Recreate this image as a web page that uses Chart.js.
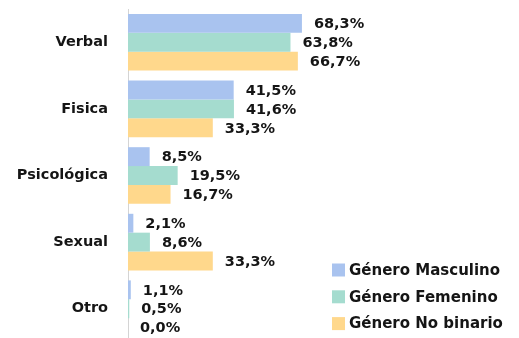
<!DOCTYPE html>
<html>
<head>
<meta charset="utf-8">
<script src="https://cdn.jsdelivr.net/npm/chart.js@4/dist/chart.umd.min.js"></script>
<style>
  html, body { margin: 0; padding: 0; background: #fff; overflow: hidden; }
  #wrap { position: absolute; left: 0; top: 0; width: 519px; height: 351px; }
</style>
</head>
<body>
<div id="wrap"><canvas id="myChart"></canvas></div>
<script>
const categorias = ['Verbal', 'Fisica', 'Psicológica', 'Sexual', 'Otro']
const masculino = [68.3, 41.5, 8.5, 2.1, 1.1]
const femenino = [63.8, 41.6, 19.5, 8.6, 0.5]
const noBinario = [66.7, 33.3, 16.7, 33.3, 0.0]

const fuente = 'bold 14.5px "DejaVu Sans"'
const fuenteLeyenda = 'bold 15px "DejaVu Sans"'
const colorTexto = '#151515'

// etiquetas de valor a la derecha de cada barra
const etiquetas = {
	id: 'etiquetas',
	afterDatasetsDraw(chart) {
		const ctx = chart.ctx
		ctx.save()
		ctx.font = fuente
		ctx.fillStyle = colorTexto
		ctx.textAlign = 'left'
		ctx.textBaseline = 'middle'
		chart.data.datasets.forEach((ds, i) => {
			chart.getDatasetMeta(i).data.forEach((bar, j) => {
				const txt = ds.data[j].toFixed(1).replace('.', ',') + '%'
				ctx.fillText(txt, bar.x + 12, bar.y + 1)
			})
		})
		ctx.restore()
	}
}

// leyenda dentro del área, abajo a la derecha
const leyenda = {
	id: 'leyenda',
	afterDraw(chart) {
		const ctx = chart.ctx
		ctx.save()
		ctx.font = fuenteLeyenda
		ctx.textBaseline = 'middle'
		chart.data.datasets.forEach((ds, i) => {
			const y = 270 + i * 26.8
			ctx.fillStyle = ds.backgroundColor
			ctx.fillRect(332, y - 6.5, 13, 13)
			ctx.fillStyle = colorTexto
			ctx.fillText(ds.label, 349, y + 1)
		})
		ctx.restore()
	}
}

const context = document.getElementById('myChart')
const items = {
	labels: categorias,
	datasets: [
		{ label: 'Género Masculino', data: masculino, backgroundColor: '#a9c3ef' },
		{ label: 'Género Femenino', data: femenino, backgroundColor: '#a5dccf' },
		{ label: 'Género No binario', data: noBinario, backgroundColor: '#ffd88c' }
	]
}
const config = {
	type: 'bar',
	data: items,
	options: {
		indexAxis: 'y',
		responsive: true,
		maintainAspectRatio: false,
		animation: false,
		categoryPercentage: 0.85,
		barPercentage: 1,
		layout: { padding: { top: 9, bottom: 9, left: 0, right: 9 } },
		plugins: {
			legend: { display: false },
			tooltip: { enabled: false }
		},
		scales: {
			x: {
				display: false,
				min: 0,
				max: 150
			},
			y: {
				grid: { display: false, drawTicks: true, tickLength: 20 },
				border: { display: true, color: '#d4d4d4', width: 1 },
				ticks: {
					padding: 0,
					color: colorTexto,
					font: { family: '"DejaVu Sans"', size: 14.5, weight: 'bold' }
				},
				afterFit(scale) { scale.width = 128 }
			}
		}
	},
	plugins: [etiquetas, leyenda]
}
const myChart = new Chart(context, config)
</script>
</body>
</html>
